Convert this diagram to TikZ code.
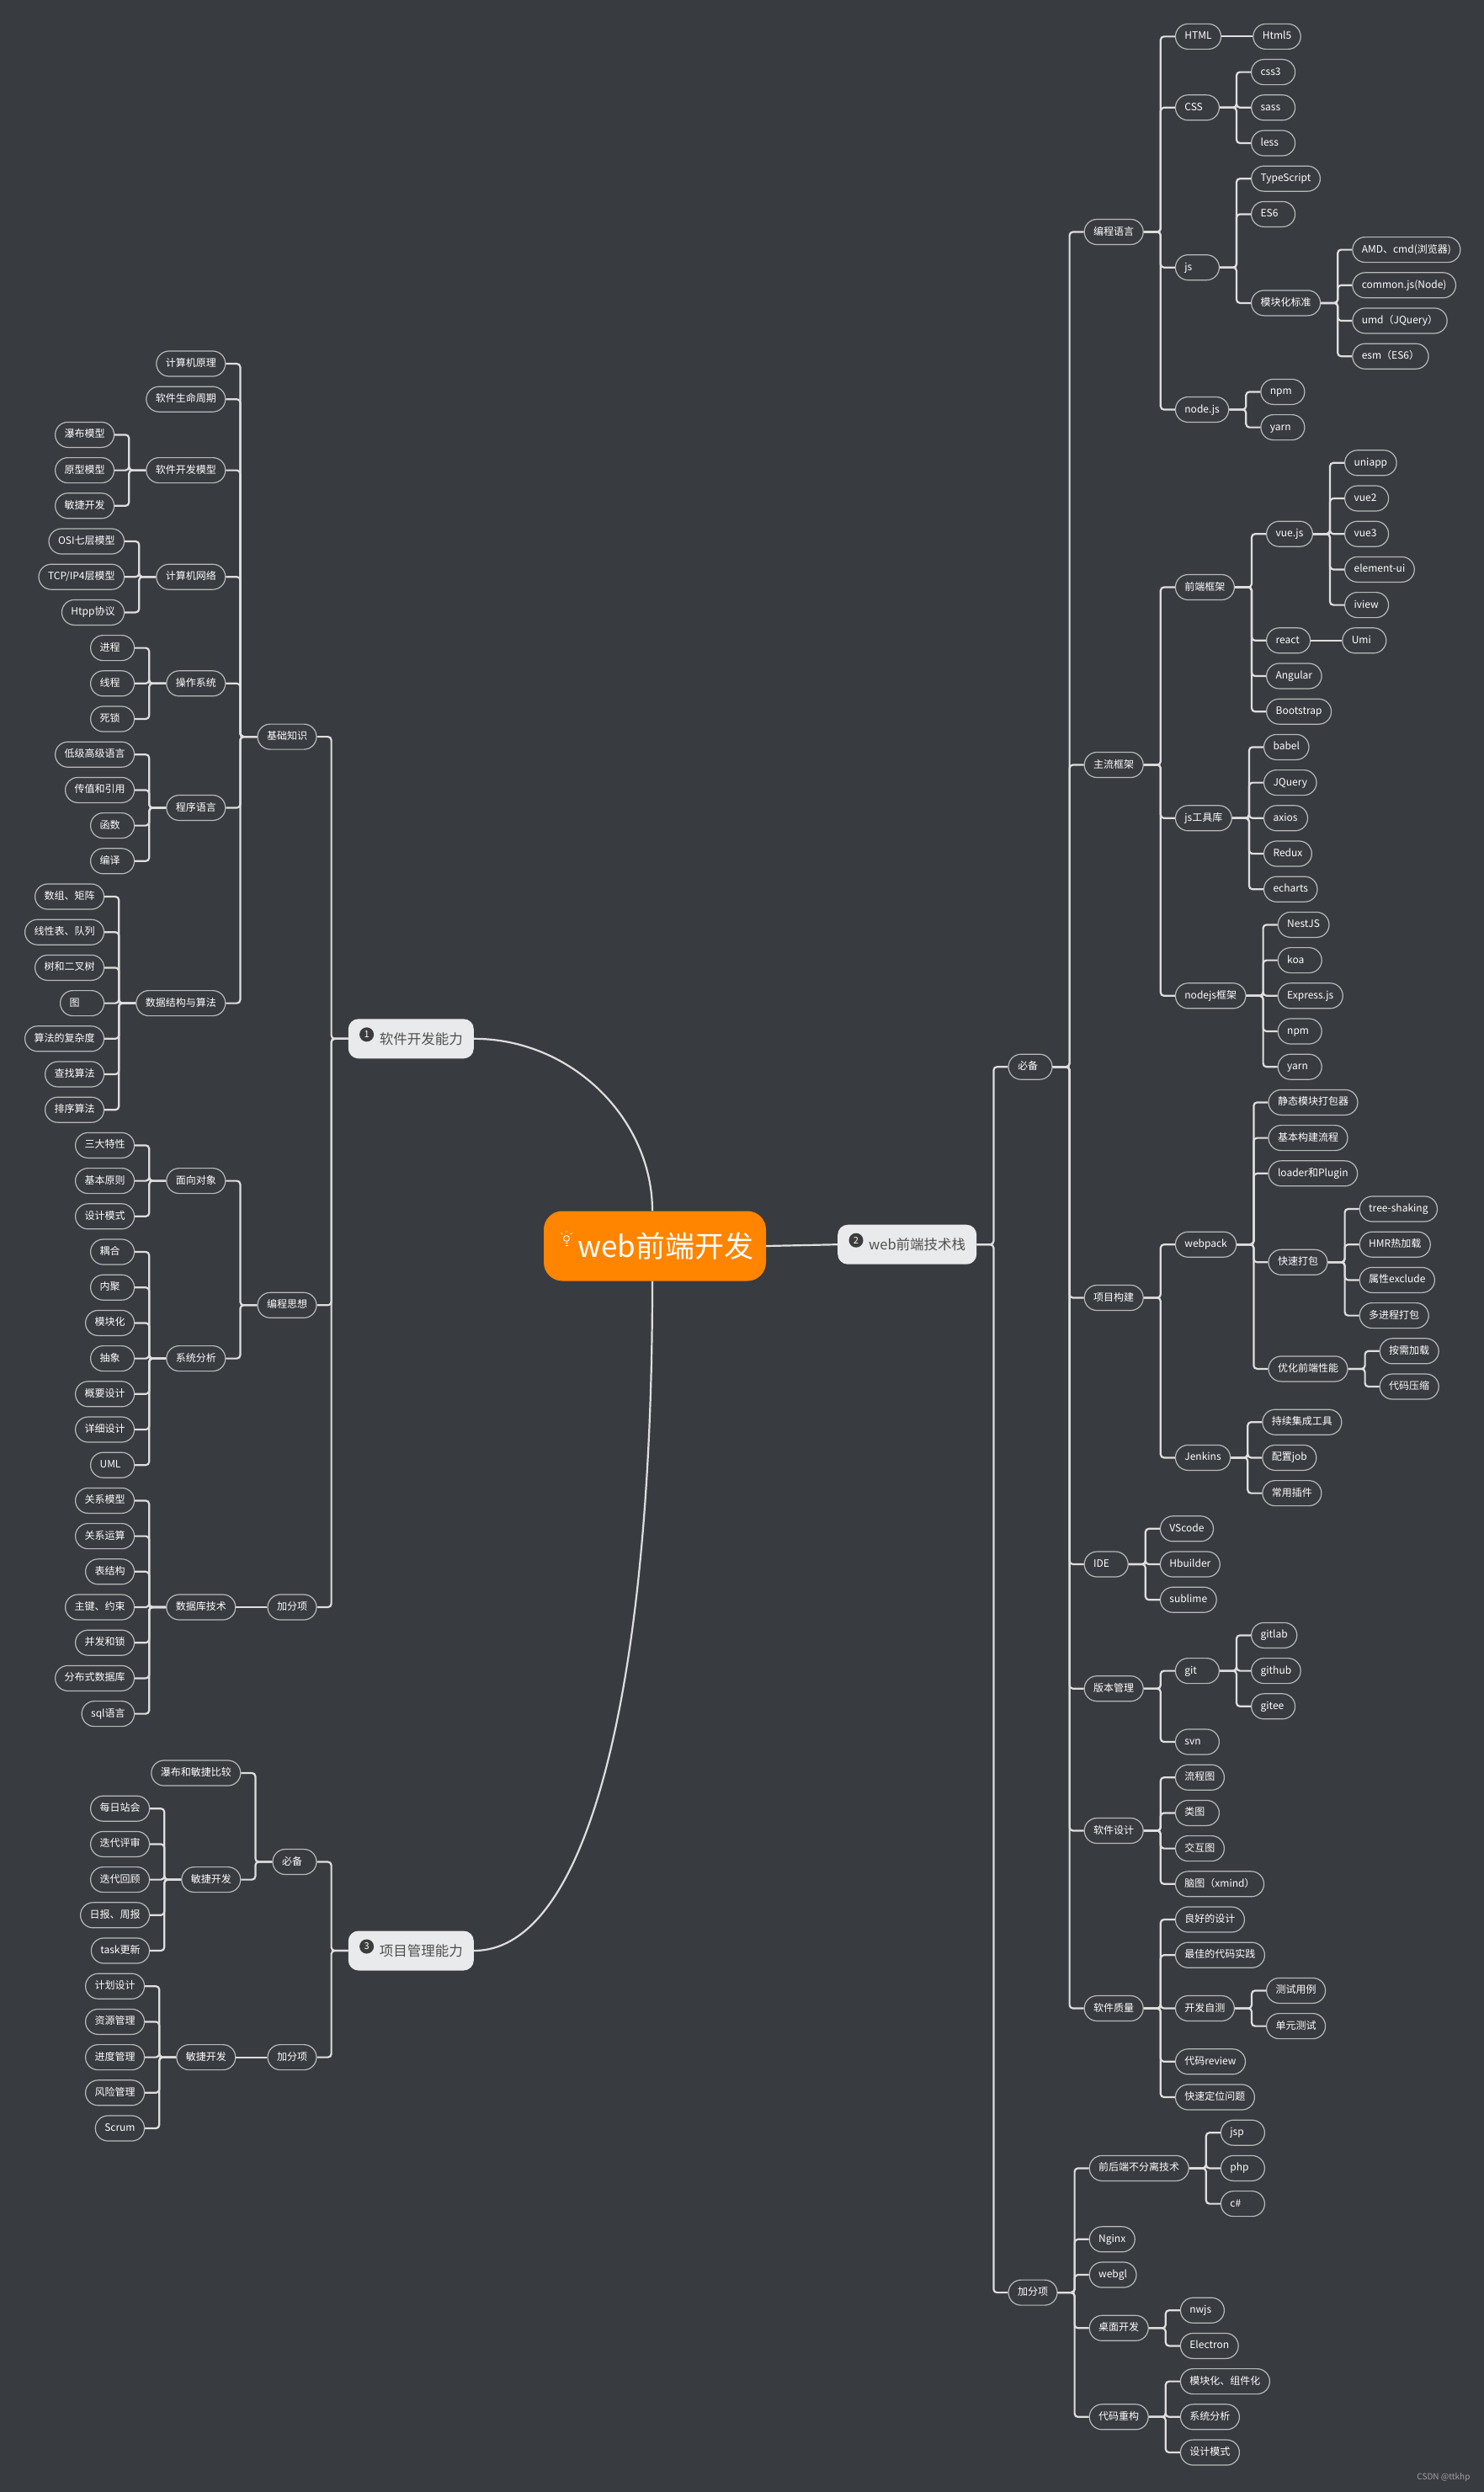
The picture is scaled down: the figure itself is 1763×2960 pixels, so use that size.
\documentclass[tikz,border=0pt]{standalone}
\usepackage{fontspec}
\setmainfont{Noto Sans CJK SC}
\definecolor{bg}{RGB}{56,59,64}
\definecolor{linkc}{RGB}{222,222,222}
\definecolor{boxc}{RGB}{185,185,185}
\definecolor{topicfill}{RGB}{233,234,235}
\definecolor{topictext}{RGB}{80,80,80}
\definecolor{badgec}{RGB}{60,60,60}
\definecolor{rootfill}{RGB}{255,132,0}
\definecolor{wmc}{RGB}{160,160,160}
\tikzset{
  box/.style={draw=boxc, line width=1.2pt, rounded corners=15pt, minimum height=30pt, minimum width=52pt, inner xsep=11pt, inner ysep=0pt, text height=9.5pt, text depth=2.5pt, text=white, font=\fontsize{12}{14}\selectfont, execute at begin node={\setbox0\hbox\bgroup}, execute at end node={\egroup\ifdim\wd0<30pt\hbox to 30pt{\box0\hfil}\else\box0\fi}},
  rn/.style={box, anchor=west, xshift=37pt},
  ln/.style={box, anchor=east, xshift=-37pt},
  topic/.style={fill=topicfill, rounded corners=12pt, minimum height=47pt, inner xsep=13pt, text=topictext, font=\fontsize{16.5}{18}\selectfont},
  badge/.style={circle, fill=badgec, text=white, minimum size=17pt, inner sep=0pt, font=\fontsize{11}{11}\selectfont},
  rootbox/.style={fill=rootfill, rounded corners=22pt, minimum width=264pt, minimum height=83pt, inner sep=0pt, text=white, font=\fontsize{35}{40}\selectfont},
  link/.style={draw=linkc, line width=2.2pt, rounded corners=4pt},
  trunk/.style={draw=linkc, line width=2.2pt},
  bulb/.style={draw=white, line width=0.9pt}
}
\begin{document}
\begin{tikzpicture}[x=1pt,y=-1pt]
\useasboundingbox (0,0) rectangle (1763,2960);
\fill[bg] (0,0) rectangle (1763,2960);

\node[rootbox] (root) at (778,1480) {\hspace*{26pt}web前端开发};
\draw[bulb] (673,1471) circle[radius=3.5pt];
\draw[bulb] (671.5,1476.5) -- (674.5,1476.5) (671.5,1479) -- (674.5,1479);
\draw[bulb] (673,1464) -- (673,1462) (668,1466) -- (666.5,1464.5) (678,1466) -- (679.5,1464.5);

\node[topic, anchor=east] (sw) at (563,1233.8) {\hspace*{24pt}软件开发能力};
\node[badge] (b1) at ([xshift=22pt,yshift=5pt]sw.west) {1};
\node[topic, anchor=west] (stack) at (995,1478.2) {\hspace*{24pt}web前端技术栈};
\node[badge] (b2) at ([xshift=22pt,yshift=5pt]stack.west) {2};
\node[topic, anchor=east] (pm) at (563,2317) {\hspace*{24pt}项目管理能力};
\node[badge] (b3) at ([xshift=22pt,yshift=5pt]pm.west) {3};

\draw[trunk] (root.east) -- (stack.west);
\draw[trunk] (sw.east) .. controls (680,1233.8) and (775,1330) .. ([xshift=-3pt]root.north);
\draw[trunk] ([xshift=-3pt]root.south) .. controls (775,2000) and (700,2317) .. (pm.east);

\node[rn] (must) at (stack.east |- 0,1267.2) {必备};
\draw[link] (stack.east) -| ([xshift=-17pt]must.west) -- (must.west);
\node[rn] (plus) at (stack.east |- 0,2723.1) {加分项};
\draw[link] (stack.east) -| ([xshift=-17pt]plus.west) -- (plus.west);

\node[rn] (lang) at (must.east |- 0,275.5) {编程语言};
\draw[link] (must.east) -| ([xshift=-17pt]lang.west) -- (lang.west);
\node[rn] (frame) at (must.east |- 0,908.5) {主流框架};
\draw[link] (must.east) -| ([xshift=-17pt]frame.west) -- (frame.west);
\node[rn] (build) at (must.east |- 0,1541.5) {项目构建};
\draw[link] (must.east) -| ([xshift=-17pt]build.west) -- (build.west);
\node[rn] (ide) at (must.east |- 0,1858.0) {IDE};
\draw[link] (must.east) -| ([xshift=-17pt]ide.west) -- (ide.west);
\node[rn] (vcs) at (must.east |- 0,2005.7) {版本管理};
\draw[link] (must.east) -| ([xshift=-17pt]vcs.west) -- (vcs.west);
\node[rn] (design) at (must.east |- 0,2174.5) {软件设计};
\draw[link] (must.east) -| ([xshift=-17pt]design.west) -- (design.west);
\node[rn] (quality) at (must.east |- 0,2385.5) {软件质量};
\draw[link] (must.east) -| ([xshift=-17pt]quality.west) -- (quality.west);

\node[rn] (html) at (lang.east |- 0,43.4) {HTML};
\draw[link] (lang.east) -| ([xshift=-17pt]html.west) -- (html.west);
\node[rn] (css) at (lang.east |- 0,127.8) {CSS};
\draw[link] (lang.east) -| ([xshift=-17pt]css.west) -- (css.west);
\node[rn] (js) at (lang.east |- 0,317.7) {js};
\draw[link] (lang.east) -| ([xshift=-17pt]js.west) -- (js.west);
\node[rn] (nodejs) at (lang.east |- 0,486.5) {node.js};
\draw[link] (lang.east) -| ([xshift=-17pt]nodejs.west) -- (nodejs.west);

\node[rn] (html5) at (html.east |- 0,43.4) {Html5};
\draw[link] (html.east) -- (html5.west);
\node[rn] (css3) at (css.east |- 0,85.6) {css3};
\draw[link] (css.east) -| ([xshift=-17pt]css3.west) -- (css3.west);
\node[rn] (sass) at (css.east |- 0,127.8) {sass};
\draw[link] (css.east) -| ([xshift=-17pt]sass.west) -- (sass.west);
\node[rn] (less) at (css.east |- 0,170.0) {less};
\draw[link] (css.east) -| ([xshift=-17pt]less.west) -- (less.west);
\node[rn] (ts) at (js.east |- 0,212.2) {TypeScript};
\draw[link] (js.east) -| ([xshift=-17pt]ts.west) -- (ts.west);
\node[rn] (es6) at (js.east |- 0,254.4) {ES6};
\draw[link] (js.east) -| ([xshift=-17pt]es6.west) -- (es6.west);
\node[rn] (mod) at (js.east |- 0,359.9) {模块化标准};
\draw[link] (js.east) -| ([xshift=-17pt]mod.west) -- (mod.west);
\node[rn] (amd) at (mod.east |- 0,296.6) {AMD、cmd(浏览器)};
\draw[link] (mod.east) -| ([xshift=-17pt]amd.west) -- (amd.west);
\node[rn] (cjs) at (mod.east |- 0,338.8) {common.js(Node)};
\draw[link] (mod.east) -| ([xshift=-17pt]cjs.west) -- (cjs.west);
\node[rn] (umd) at (mod.east |- 0,381.0) {umd（JQuery）};
\draw[link] (mod.east) -| ([xshift=-17pt]umd.west) -- (umd.west);
\node[rn] (esm) at (mod.east |- 0,423.2) {esm（ES6）};
\draw[link] (mod.east) -| ([xshift=-17pt]esm.west) -- (esm.west);
\node[rn] (npma) at (nodejs.east |- 0,465.4) {npm};
\draw[link] (nodejs.east) -| ([xshift=-17pt]npma.west) -- (npma.west);
\node[rn] (yarna) at (nodejs.east |- 0,507.6) {yarn};
\draw[link] (nodejs.east) -| ([xshift=-17pt]yarna.west) -- (yarna.west);

\node[rn] (fe) at (frame.east |- 0,697.5) {前端框架};
\draw[link] (frame.east) -| ([xshift=-17pt]fe.west) -- (fe.west);
\node[rn] (jstool) at (frame.east |- 0,971.8) {js工具库};
\draw[link] (frame.east) -| ([xshift=-17pt]jstool.west) -- (jstool.west);
\node[rn] (nodefw) at (frame.east |- 0,1182.8) {nodejs框架};
\draw[link] (frame.east) -| ([xshift=-17pt]nodefw.west) -- (nodefw.west);

\node[rn] (vue) at (fe.east |- 0,634.2) {vue.js};
\draw[link] (fe.east) -| ([xshift=-17pt]vue.west) -- (vue.west);
\node[rn] (react) at (fe.east |- 0,760.8) {react};
\draw[link] (fe.east) -| ([xshift=-17pt]react.west) -- (react.west);
\node[rn] (angular) at (fe.east |- 0,803.0) {Angular};
\draw[link] (fe.east) -| ([xshift=-17pt]angular.west) -- (angular.west);
\node[rn] (boot) at (fe.east |- 0,845.2) {Bootstrap};
\draw[link] (fe.east) -| ([xshift=-17pt]boot.west) -- (boot.west);
\node[rn] (uniapp) at (vue.east |- 0,549.8) {uniapp};
\draw[link] (vue.east) -| ([xshift=-17pt]uniapp.west) -- (uniapp.west);
\node[rn] (vue2) at (vue.east |- 0,592.0) {vue2};
\draw[link] (vue.east) -| ([xshift=-17pt]vue2.west) -- (vue2.west);
\node[rn] (vue3) at (vue.east |- 0,634.2) {vue3};
\draw[link] (vue.east) -| ([xshift=-17pt]vue3.west) -- (vue3.west);
\node[rn] (elem) at (vue.east |- 0,676.4) {element-ui};
\draw[link] (vue.east) -| ([xshift=-17pt]elem.west) -- (elem.west);
\node[rn] (iview) at (vue.east |- 0,718.6) {iview};
\draw[link] (vue.east) -| ([xshift=-17pt]iview.west) -- (iview.west);
\node[rn] (umi) at (react.east |- 0,760.8) {Umi};
\draw[link] (react.east) -- (umi.west);

\node[rn] (babel) at (jstool.east |- 0,887.4) {babel};
\draw[link] (jstool.east) -| ([xshift=-17pt]babel.west) -- (babel.west);
\node[rn] (jquery) at (jstool.east |- 0,929.6) {JQuery};
\draw[link] (jstool.east) -| ([xshift=-17pt]jquery.west) -- (jquery.west);
\node[rn] (axios) at (jstool.east |- 0,971.8) {axios};
\draw[link] (jstool.east) -| ([xshift=-17pt]axios.west) -- (axios.west);
\node[rn] (redux) at (jstool.east |- 0,1014.0) {Redux};
\draw[link] (jstool.east) -| ([xshift=-17pt]redux.west) -- (redux.west);
\node[rn] (echarts) at (jstool.east |- 0,1056.2) {echarts};
\draw[link] (jstool.east) -| ([xshift=-17pt]echarts.west) -- (echarts.west);

\node[rn] (nest) at (nodefw.east |- 0,1098.4) {NestJS};
\draw[link] (nodefw.east) -| ([xshift=-17pt]nest.west) -- (nest.west);
\node[rn] (koa) at (nodefw.east |- 0,1140.6) {koa};
\draw[link] (nodefw.east) -| ([xshift=-17pt]koa.west) -- (koa.west);
\node[rn] (express) at (nodefw.east |- 0,1182.8) {Express.js};
\draw[link] (nodefw.east) -| ([xshift=-17pt]express.west) -- (express.west);
\node[rn] (npmb) at (nodefw.east |- 0,1225.0) {npm};
\draw[link] (nodefw.east) -| ([xshift=-17pt]npmb.west) -- (npmb.west);
\node[rn] (yarnb) at (nodefw.east |- 0,1267.2) {yarn};
\draw[link] (nodefw.east) -| ([xshift=-17pt]yarnb.west) -- (yarnb.west);

\node[rn] (webpack) at (build.east |- 0,1478.2) {webpack};
\draw[link] (build.east) -| ([xshift=-17pt]webpack.west) -- (webpack.west);
\node[rn] (jenkins) at (build.east |- 0,1731.4) {Jenkins};
\draw[link] (build.east) -| ([xshift=-17pt]jenkins.west) -- (jenkins.west);

\node[rn] (bundler) at (webpack.east |- 0,1309.4) {静态模块打包器};
\draw[link] (webpack.east) -| ([xshift=-17pt]bundler.west) -- (bundler.west);
\node[rn] (flowb) at (webpack.east |- 0,1351.6) {基本构建流程};
\draw[link] (webpack.east) -| ([xshift=-17pt]flowb.west) -- (flowb.west);
\node[rn] (loader) at (webpack.east |- 0,1393.8) {loader和Plugin};
\draw[link] (webpack.east) -| ([xshift=-17pt]loader.west) -- (loader.west);
\node[rn] (fast) at (webpack.east |- 0,1499.3) {快速打包};
\draw[link] (webpack.east) -| ([xshift=-17pt]fast.west) -- (fast.west);
\node[rn] (perf) at (webpack.east |- 0,1625.9) {优化前端性能};
\draw[link] (webpack.east) -| ([xshift=-17pt]perf.west) -- (perf.west);
\node[rn] (shake) at (fast.east |- 0,1436.0) {tree-shaking};
\draw[link] (fast.east) -| ([xshift=-17pt]shake.west) -- (shake.west);
\node[rn] (hmr) at (fast.east |- 0,1478.2) {HMR热加载};
\draw[link] (fast.east) -| ([xshift=-17pt]hmr.west) -- (hmr.west);
\node[rn] (excl) at (fast.east |- 0,1520.4) {属性exclude};
\draw[link] (fast.east) -| ([xshift=-17pt]excl.west) -- (excl.west);
\node[rn] (multi) at (fast.east |- 0,1562.6) {多进程打包};
\draw[link] (fast.east) -| ([xshift=-17pt]multi.west) -- (multi.west);
\node[rn] (lazy) at (perf.east |- 0,1604.8) {按需加载};
\draw[link] (perf.east) -| ([xshift=-17pt]lazy.west) -- (lazy.west);
\node[rn] (zip) at (perf.east |- 0,1647.0) {代码压缩};
\draw[link] (perf.east) -| ([xshift=-17pt]zip.west) -- (zip.west);
\node[rn] (ci) at (jenkins.east |- 0,1689.2) {持续集成工具};
\draw[link] (jenkins.east) -| ([xshift=-17pt]ci.west) -- (ci.west);
\node[rn] (job) at (jenkins.east |- 0,1731.4) {配置job};
\draw[link] (jenkins.east) -| ([xshift=-17pt]job.west) -- (job.west);
\node[rn] (plug) at (jenkins.east |- 0,1773.6) {常用插件};
\draw[link] (jenkins.east) -| ([xshift=-17pt]plug.west) -- (plug.west);

\node[rn] (vscode) at (ide.east |- 0,1815.8) {VScode};
\draw[link] (ide.east) -| ([xshift=-17pt]vscode.west) -- (vscode.west);
\node[rn] (hbuilder) at (ide.east |- 0,1858.0) {Hbuilder};
\draw[link] (ide.east) -| ([xshift=-17pt]hbuilder.west) -- (hbuilder.west);
\node[rn] (sublime) at (ide.east |- 0,1900.2) {sublime};
\draw[link] (ide.east) -| ([xshift=-17pt]sublime.west) -- (sublime.west);

\node[rn] (git) at (vcs.east |- 0,1984.6) {git};
\draw[link] (vcs.east) -| ([xshift=-17pt]git.west) -- (git.west);
\node[rn] (svn) at (vcs.east |- 0,2069.0) {svn};
\draw[link] (vcs.east) -| ([xshift=-17pt]svn.west) -- (svn.west);
\node[rn] (gitlab) at (git.east |- 0,1942.4) {gitlab};
\draw[link] (git.east) -| ([xshift=-17pt]gitlab.west) -- (gitlab.west);
\node[rn] (github) at (git.east |- 0,1984.6) {github};
\draw[link] (git.east) -| ([xshift=-17pt]github.west) -- (github.west);
\node[rn] (gitee) at (git.east |- 0,2026.8) {gitee};
\draw[link] (git.east) -| ([xshift=-17pt]gitee.west) -- (gitee.west);

\node[rn] (flowc) at (design.east |- 0,2111.2) {流程图};
\draw[link] (design.east) -| ([xshift=-17pt]flowc.west) -- (flowc.west);
\node[rn] (classd) at (design.east |- 0,2153.4) {类图};
\draw[link] (design.east) -| ([xshift=-17pt]classd.west) -- (classd.west);
\node[rn] (interd) at (design.east |- 0,2195.6) {交互图};
\draw[link] (design.east) -| ([xshift=-17pt]interd.west) -- (interd.west);
\node[rn] (mindd) at (design.east |- 0,2237.8) {脑图（xmind）};
\draw[link] (design.east) -| ([xshift=-17pt]mindd.west) -- (mindd.west);

\node[rn] (gooddes) at (quality.east |- 0,2280.0) {良好的设计};
\draw[link] (quality.east) -| ([xshift=-17pt]gooddes.west) -- (gooddes.west);
\node[rn] (bestcode) at (quality.east |- 0,2322.2) {最佳的代码实践};
\draw[link] (quality.east) -| ([xshift=-17pt]bestcode.west) -- (bestcode.west);
\node[rn] (selftest) at (quality.east |- 0,2385.5) {开发自测};
\draw[link] (quality.east) -| ([xshift=-17pt]selftest.west) -- (selftest.west);
\node[rn] (review) at (quality.east |- 0,2448.8) {代码review};
\draw[link] (quality.east) -| ([xshift=-17pt]review.west) -- (review.west);
\node[rn] (locate) at (quality.east |- 0,2491.0) {快速定位问题};
\draw[link] (quality.east) -| ([xshift=-17pt]locate.west) -- (locate.west);
\node[rn] (tcase) at (selftest.east |- 0,2364.4) {测试用例};
\draw[link] (selftest.east) -| ([xshift=-17pt]tcase.west) -- (tcase.west);
\node[rn] (unit) at (selftest.east |- 0,2406.6) {单元测试};
\draw[link] (selftest.east) -| ([xshift=-17pt]unit.west) -- (unit.west);

\node[rn] (nosep) at (plus.east |- 0,2575.4) {前后端不分离技术};
\draw[link] (plus.east) -| ([xshift=-17pt]nosep.west) -- (nosep.west);
\node[rn] (nginx) at (plus.east |- 0,2659.8) {Nginx};
\draw[link] (plus.east) -| ([xshift=-17pt]nginx.west) -- (nginx.west);
\node[rn] (webgl) at (plus.east |- 0,2702.0) {webgl};
\draw[link] (plus.east) -| ([xshift=-17pt]webgl.west) -- (webgl.west);
\node[rn] (desk) at (plus.east |- 0,2765.3) {桌面开发};
\draw[link] (plus.east) -| ([xshift=-17pt]desk.west) -- (desk.west);
\node[rn] (refac) at (plus.east |- 0,2870.8) {代码重构};
\draw[link] (plus.east) -| ([xshift=-17pt]refac.west) -- (refac.west);
\node[rn] (jsp) at (nosep.east |- 0,2533.2) {jsp};
\draw[link] (nosep.east) -| ([xshift=-17pt]jsp.west) -- (jsp.west);
\node[rn] (php) at (nosep.east |- 0,2575.4) {php};
\draw[link] (nosep.east) -| ([xshift=-17pt]php.west) -- (php.west);
\node[rn] (csharp) at (nosep.east |- 0,2617.6) {c\#};
\draw[link] (nosep.east) -| ([xshift=-17pt]csharp.west) -- (csharp.west);
\node[rn] (nwjs) at (desk.east |- 0,2744.2) {nwjs};
\draw[link] (desk.east) -| ([xshift=-17pt]nwjs.west) -- (nwjs.west);
\node[rn] (electron) at (desk.east |- 0,2786.4) {Electron};
\draw[link] (desk.east) -| ([xshift=-17pt]electron.west) -- (electron.west);
\node[rn] (modcomp) at (refac.east |- 0,2828.6) {模块化、组件化};
\draw[link] (refac.east) -| ([xshift=-17pt]modcomp.west) -- (modcomp.west);
\node[rn] (sysana) at (refac.east |- 0,2870.8) {系统分析};
\draw[link] (refac.east) -| ([xshift=-17pt]sysana.west) -- (sysana.west);
\node[rn] (despat) at (refac.east |- 0,2913.0) {设计模式};
\draw[link] (refac.east) -| ([xshift=-17pt]despat.west) -- (despat.west);

\node[ln] (base) at (sw.west |- 0,875.1) {基础知识};
\draw[link] (sw.west) -| ([xshift=17pt]base.east) -- (base.east);
\node[ln] (idea) at (sw.west |- 0,1550.3) {编程思想};
\draw[link] (sw.west) -| ([xshift=17pt]idea.east) -- (idea.east);
\node[ln] (bonus) at (sw.west |- 0,1909.0) {加分项};
\draw[link] (sw.west) -| ([xshift=17pt]bonus.east) -- (bonus.east);

\node[ln] (arch) at (base.west |- 0,432.0) {计算机原理};
\draw[link] (base.west) -| ([xshift=17pt]arch.east) -- (arch.east);
\node[ln] (life) at (base.west |- 0,474.2) {软件生命周期};
\draw[link] (base.west) -| ([xshift=17pt]life.east) -- (life.east);
\node[ln] (devmod) at (base.west |- 0,558.6) {软件开发模型};
\draw[link] (base.west) -| ([xshift=17pt]devmod.east) -- (devmod.east);
\node[ln] (net) at (base.west |- 0,685.2) {计算机网络};
\draw[link] (base.west) -| ([xshift=17pt]net.east) -- (net.east);
\node[ln] (os) at (base.west |- 0,811.8) {操作系统};
\draw[link] (base.west) -| ([xshift=17pt]os.east) -- (os.east);
\node[ln] (plang) at (base.west |- 0,959.5) {程序语言};
\draw[link] (base.west) -| ([xshift=17pt]plang.east) -- (plang.east);
\node[ln] (dsa) at (base.west |- 0,1191.6) {数据结构与算法};
\draw[link] (base.west) -| ([xshift=17pt]dsa.east) -- (dsa.east);

\node[ln] (water) at (devmod.west |- 0,516.4) {瀑布模型};
\draw[link] (devmod.west) -| ([xshift=17pt]water.east) -- (water.east);
\node[ln] (proto) at (devmod.west |- 0,558.6) {原型模型};
\draw[link] (devmod.west) -| ([xshift=17pt]proto.east) -- (proto.east);
\node[ln] (agile) at (devmod.west |- 0,600.8) {敏捷开发};
\draw[link] (devmod.west) -| ([xshift=17pt]agile.east) -- (agile.east);
\node[ln] (osi) at (net.west |- 0,643.0) {OSI七层模型};
\draw[link] (net.west) -| ([xshift=17pt]osi.east) -- (osi.east);
\node[ln] (tcp) at (net.west |- 0,685.2) {TCP/IP4层模型};
\draw[link] (net.west) -| ([xshift=17pt]tcp.east) -- (tcp.east);
\node[ln] (http) at (net.west |- 0,727.4) {Htpp协议};
\draw[link] (net.west) -| ([xshift=17pt]http.east) -- (http.east);
\node[ln] (proc) at (os.west |- 0,769.6) {进程};
\draw[link] (os.west) -| ([xshift=17pt]proc.east) -- (proc.east);
\node[ln] (thread) at (os.west |- 0,811.8) {线程};
\draw[link] (os.west) -| ([xshift=17pt]thread.east) -- (thread.east);
\node[ln] (dead) at (os.west |- 0,854.0) {死锁};
\draw[link] (os.west) -| ([xshift=17pt]dead.east) -- (dead.east);
\node[ln] (lowhigh) at (plang.west |- 0,896.2) {低级高级语言};
\draw[link] (plang.west) -| ([xshift=17pt]lowhigh.east) -- (lowhigh.east);
\node[ln] (passref) at (plang.west |- 0,938.4) {传值和引用};
\draw[link] (plang.west) -| ([xshift=17pt]passref.east) -- (passref.east);
\node[ln] (func) at (plang.west |- 0,980.6) {函数};
\draw[link] (plang.west) -| ([xshift=17pt]func.east) -- (func.east);
\node[ln] (compile) at (plang.west |- 0,1022.8) {编译};
\draw[link] (plang.west) -| ([xshift=17pt]compile.east) -- (compile.east);
\node[ln] (array) at (dsa.west |- 0,1065.0) {数组、矩阵};
\draw[link] (dsa.west) -| ([xshift=17pt]array.east) -- (array.east);
\node[ln] (linear) at (dsa.west |- 0,1107.2) {线性表、队列};
\draw[link] (dsa.west) -| ([xshift=17pt]linear.east) -- (linear.east);
\node[ln] (btree) at (dsa.west |- 0,1149.4) {树和二叉树};
\draw[link] (dsa.west) -| ([xshift=17pt]btree.east) -- (btree.east);
\node[ln] (graph) at (dsa.west |- 0,1191.6) {图};
\draw[link] (dsa.west) -| ([xshift=17pt]graph.east) -- (graph.east);
\node[ln] (cplx) at (dsa.west |- 0,1233.8) {算法的复杂度};
\draw[link] (dsa.west) -| ([xshift=17pt]cplx.east) -- (cplx.east);
\node[ln] (search) at (dsa.west |- 0,1276.0) {查找算法};
\draw[link] (dsa.west) -| ([xshift=17pt]search.east) -- (search.east);
\node[ln] (sort) at (dsa.west |- 0,1318.2) {排序算法};
\draw[link] (dsa.west) -| ([xshift=17pt]sort.east) -- (sort.east);

\node[ln] (oop) at (idea.west |- 0,1402.6) {面向对象};
\draw[link] (idea.west) -| ([xshift=17pt]oop.east) -- (oop.east);
\node[ln] (sysan) at (idea.west |- 0,1613.6) {系统分析};
\draw[link] (idea.west) -| ([xshift=17pt]sysan.east) -- (sysan.east);
\node[ln] (three) at (oop.west |- 0,1360.4) {三大特性};
\draw[link] (oop.west) -| ([xshift=17pt]three.east) -- (three.east);
\node[ln] (princ) at (oop.west |- 0,1402.6) {基本原则};
\draw[link] (oop.west) -| ([xshift=17pt]princ.east) -- (princ.east);
\node[ln] (pattern) at (oop.west |- 0,1444.8) {设计模式};
\draw[link] (oop.west) -| ([xshift=17pt]pattern.east) -- (pattern.east);
\node[ln] (coupling) at (sysan.west |- 0,1487.0) {耦合};
\draw[link] (sysan.west) -| ([xshift=17pt]coupling.east) -- (coupling.east);
\node[ln] (cohesion) at (sysan.west |- 0,1529.2) {内聚};
\draw[link] (sysan.west) -| ([xshift=17pt]cohesion.east) -- (cohesion.east);
\node[ln] (modular) at (sysan.west |- 0,1571.4) {模块化};
\draw[link] (sysan.west) -| ([xshift=17pt]modular.east) -- (modular.east);
\node[ln] (abstr) at (sysan.west |- 0,1613.6) {抽象};
\draw[link] (sysan.west) -| ([xshift=17pt]abstr.east) -- (abstr.east);
\node[ln] (outline) at (sysan.west |- 0,1655.8) {概要设计};
\draw[link] (sysan.west) -| ([xshift=17pt]outline.east) -- (outline.east);
\node[ln] (detail) at (sysan.west |- 0,1698.0) {详细设计};
\draw[link] (sysan.west) -| ([xshift=17pt]detail.east) -- (detail.east);
\node[ln] (uml) at (sysan.west |- 0,1740.2) {UML};
\draw[link] (sysan.west) -| ([xshift=17pt]uml.east) -- (uml.east);

\node[ln] (dbtech) at (bonus.west |- 0,1909.0) {数据库技术};
\draw[link] (bonus.west) -- (dbtech.east);
\node[ln] (relmod) at (dbtech.west |- 0,1782.4) {关系模型};
\draw[link] (dbtech.west) -| ([xshift=17pt]relmod.east) -- (relmod.east);
\node[ln] (relop) at (dbtech.west |- 0,1824.6) {关系运算};
\draw[link] (dbtech.west) -| ([xshift=17pt]relop.east) -- (relop.east);
\node[ln] (tables) at (dbtech.west |- 0,1866.8) {表结构};
\draw[link] (dbtech.west) -| ([xshift=17pt]tables.east) -- (tables.east);
\node[ln] (pkey) at (dbtech.west |- 0,1909.0) {主键、约束};
\draw[link] (dbtech.west) -| ([xshift=17pt]pkey.east) -- (pkey.east);
\node[ln] (locks) at (dbtech.west |- 0,1951.2) {并发和锁};
\draw[link] (dbtech.west) -| ([xshift=17pt]locks.east) -- (locks.east);
\node[ln] (distdb) at (dbtech.west |- 0,1993.4) {分布式数据库};
\draw[link] (dbtech.west) -| ([xshift=17pt]distdb.east) -- (distdb.east);
\node[ln] (sqllang) at (dbtech.west |- 0,2035.6) {sql语言};
\draw[link] (dbtech.west) -| ([xshift=17pt]sqllang.east) -- (sqllang.east);

\node[ln] (pmust) at (pm.west |- 0,2211.5) {必备};
\draw[link] (pm.west) -| ([xshift=17pt]pmust.east) -- (pmust.east);
\node[ln] (pplus) at (pm.west |- 0,2443.6) {加分项};
\draw[link] (pm.west) -| ([xshift=17pt]pplus.east) -- (pplus.east);
\node[ln] (compare) at (pmust.west |- 0,2106.0) {瀑布和敏捷比较};
\draw[link] (pmust.west) -| ([xshift=17pt]compare.east) -- (compare.east);
\node[ln] (agileb) at (pmust.west |- 0,2232.6) {敏捷开发};
\draw[link] (pmust.west) -| ([xshift=17pt]agileb.east) -- (agileb.east);
\node[ln] (standup) at (agileb.west |- 0,2148.2) {每日站会};
\draw[link] (agileb.west) -| ([xshift=17pt]standup.east) -- (standup.east);
\node[ln] (iterrev) at (agileb.west |- 0,2190.4) {迭代评审};
\draw[link] (agileb.west) -| ([xshift=17pt]iterrev.east) -- (iterrev.east);
\node[ln] (retro) at (agileb.west |- 0,2232.6) {迭代回顾};
\draw[link] (agileb.west) -| ([xshift=17pt]retro.east) -- (retro.east);
\node[ln] (report) at (agileb.west |- 0,2274.8) {日报、周报};
\draw[link] (agileb.west) -| ([xshift=17pt]report.east) -- (report.east);
\node[ln] (task) at (agileb.west |- 0,2317.0) {task更新};
\draw[link] (agileb.west) -| ([xshift=17pt]task.east) -- (task.east);
\node[ln] (agilec) at (pplus.west |- 0,2443.6) {敏捷开发};
\draw[link] (pplus.west) -- (agilec.east);
\node[ln] (plan) at (agilec.west |- 0,2359.2) {计划设计};
\draw[link] (agilec.west) -| ([xshift=17pt]plan.east) -- (plan.east);
\node[ln] (resource) at (agilec.west |- 0,2401.4) {资源管理};
\draw[link] (agilec.west) -| ([xshift=17pt]resource.east) -- (resource.east);
\node[ln] (progress) at (agilec.west |- 0,2443.6) {进度管理};
\draw[link] (agilec.west) -| ([xshift=17pt]progress.east) -- (progress.east);
\node[ln] (riskm) at (agilec.west |- 0,2485.8) {风险管理};
\draw[link] (agilec.west) -| ([xshift=17pt]riskm.east) -- (riskm.east);
\node[ln] (scrum) at (agilec.west |- 0,2528.0) {Scrum};
\draw[link] (agilec.west) -| ([xshift=17pt]scrum.east) -- (scrum.east);

\node[text=wmc, font=\fontsize{10}{12}\selectfont, anchor=east] (wm) at (1750,2943) {CSDN @ttkhp};
\end{tikzpicture}
\end{document}
